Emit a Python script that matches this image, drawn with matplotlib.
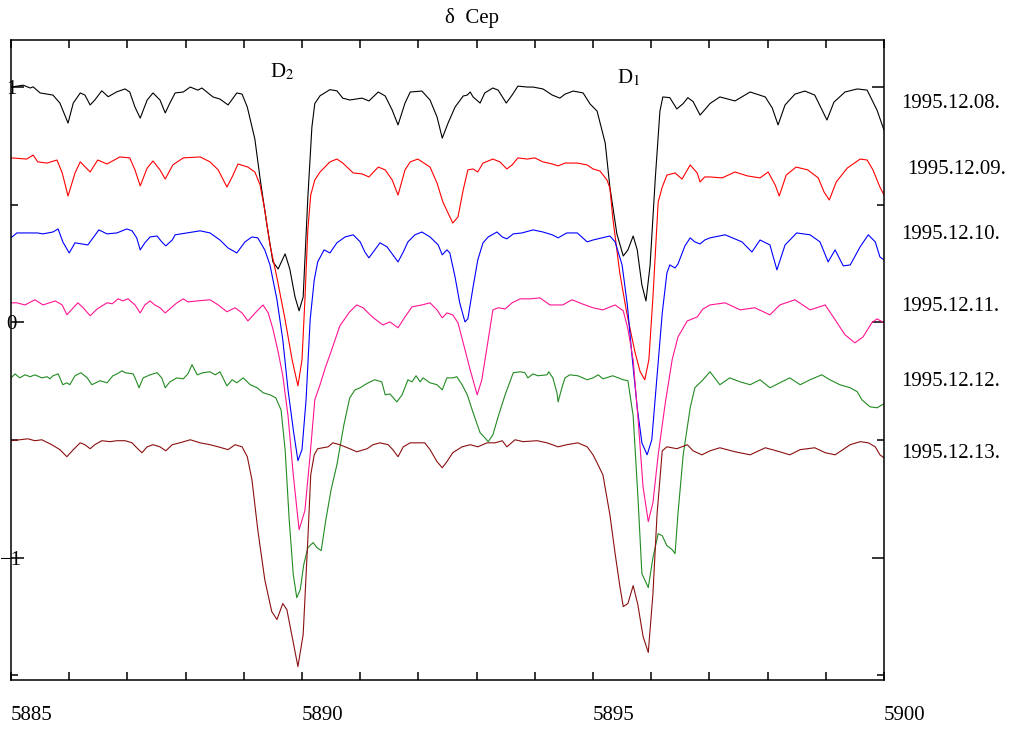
import numpy as np
import matplotlib.pyplot as plt

plt.rcParams['font.family'] = ['Liberation Serif', 'DejaVu Serif']
plt.rcParams['mathtext.fontset'] = 'stix'

# Na D region of delta Cep, six nights; (wavelength [A], offset flux)
spec_08 = np.array([
    (5885.00, 1.000), (5885.21, 1.008), (5885.33, 0.996), (5885.38, 1.001), (5885.50, 0.975),
    (5885.72, 0.966), (5885.84, 0.932), (5885.98, 0.847), (5886.07, 0.932), (5886.19, 0.975),
    (5886.27, 0.966), (5886.36, 0.924), (5886.44, 0.945), (5886.56, 0.984), (5886.67, 0.959),
    (5886.82, 0.980), (5886.96, 0.992), (5887.04, 0.979), (5887.13, 0.915), (5887.22, 0.868),
    (5887.34, 0.945), (5887.44, 0.975), (5887.56, 0.945), (5887.65, 0.890), (5887.73, 0.932),
    (5887.82, 0.975), (5887.96, 0.979), (5888.08, 1.000), (5888.21, 0.987), (5888.28, 0.996),
    (5888.47, 0.958), (5888.59, 0.949), (5888.73, 0.924), (5888.88, 0.975), (5888.97, 0.970),
    (5889.06, 0.915), (5889.19, 0.779), (5889.28, 0.611), (5889.40, 0.410), (5889.50, 0.257),
    (5889.59, 0.227), (5889.71, 0.291), (5889.79, 0.227), (5889.88, 0.108), (5889.95, 0.049),
    (5890.02, 0.108), (5890.10, 0.529), (5890.17, 0.830), (5890.22, 0.930), (5890.31, 0.963),
    (5890.48, 0.989), (5890.60, 0.984), (5890.70, 0.953), (5890.82, 0.945), (5891.03, 0.953),
    (5891.15, 0.941), (5891.31, 0.979), (5891.43, 0.962), (5891.55, 0.902), (5891.65, 0.839),
    (5891.77, 0.932), (5891.86, 0.979), (5892.06, 0.983), (5892.20, 0.945), (5892.32, 0.873),
    (5892.41, 0.783), (5892.51, 0.847), (5892.63, 0.915), (5892.77, 0.962), (5892.84, 0.966),
    (5892.89, 0.979), (5892.94, 0.958), (5893.06, 0.932), (5893.14, 0.975), (5893.28, 0.996),
    (5893.37, 0.987), (5893.51, 0.932), (5893.61, 0.966), (5893.71, 1.004), (5893.87, 1.000),
    (5893.97, 1.000), (5894.14, 0.992), (5894.30, 0.966), (5894.43, 0.953), (5894.52, 0.970),
    (5894.66, 0.983), (5894.83, 0.975), (5894.95, 0.928), (5895.07, 0.898), (5895.21, 0.762),
    (5895.29, 0.575), (5895.41, 0.376), (5895.52, 0.282), (5895.60, 0.308), (5895.69, 0.367),
    (5895.76, 0.308), (5895.84, 0.159), (5895.91, 0.091), (5895.98, 0.240), (5896.07, 0.611),
    (5896.15, 0.898), (5896.20, 0.958), (5896.32, 0.955), (5896.44, 0.907), (5896.55, 0.930),
    (5896.63, 0.955), (5896.72, 0.938), (5896.84, 0.881), (5896.96, 0.915), (5897.01, 0.930),
    (5897.18, 0.958), (5897.44, 0.941), (5897.70, 0.979), (5897.96, 0.958), (5898.08, 0.911),
    (5898.18, 0.839), (5898.30, 0.924), (5898.47, 0.970), (5898.64, 0.983), (5898.81, 0.966),
    (5898.92, 0.911), (5899.02, 0.860), (5899.14, 0.936), (5899.33, 0.979), (5899.54, 0.992),
    (5899.71, 0.987), (5899.88, 0.902), (5900.00, 0.817),
])

spec_09 = np.array([
    (5885.00, 0.699), (5885.27, 0.694), (5885.38, 0.711), (5885.46, 0.682), (5885.62, 0.677),
    (5885.79, 0.690), (5885.88, 0.635), (5885.98, 0.537), (5886.10, 0.635), (5886.19, 0.682),
    (5886.36, 0.639), (5886.49, 0.690), (5886.65, 0.673), (5886.87, 0.703), (5887.04, 0.699),
    (5887.13, 0.648), (5887.22, 0.580), (5887.34, 0.656), (5887.44, 0.686), (5887.56, 0.648),
    (5887.65, 0.609), (5887.78, 0.669), (5887.96, 0.699), (5888.25, 0.703), (5888.42, 0.682),
    (5888.56, 0.648), (5888.71, 0.575), (5888.80, 0.618), (5888.90, 0.673), (5889.07, 0.660),
    (5889.19, 0.639), (5889.28, 0.584), (5889.36, 0.478), (5889.45, 0.329), (5889.57, 0.189),
    (5889.71, 0.011), (5889.83, -0.159), (5889.93, -0.270), (5890.00, -0.159), (5890.05, 0.096),
    (5890.10, 0.393), (5890.15, 0.541), (5890.22, 0.605), (5890.31, 0.639), (5890.48, 0.682),
    (5890.60, 0.694), (5890.70, 0.677), (5890.88, 0.635), (5891.03, 0.631), (5891.15, 0.618),
    (5891.31, 0.660), (5891.43, 0.648), (5891.55, 0.605), (5891.65, 0.541), (5891.77, 0.648),
    (5891.86, 0.682), (5891.99, 0.694), (5892.20, 0.660), (5892.32, 0.592), (5892.42, 0.512),
    (5892.59, 0.422), (5892.68, 0.448), (5892.77, 0.563), (5892.85, 0.648), (5892.94, 0.652),
    (5893.02, 0.639), (5893.11, 0.677), (5893.28, 0.694), (5893.40, 0.682), (5893.52, 0.652),
    (5893.61, 0.669), (5893.71, 0.699), (5893.87, 0.694), (5894.00, 0.699), (5894.14, 0.682),
    (5894.30, 0.673), (5894.40, 0.665), (5894.52, 0.677), (5894.73, 0.677), (5894.90, 0.669),
    (5895.00, 0.652), (5895.12, 0.643), (5895.24, 0.605), (5895.29, 0.571), (5895.34, 0.444),
    (5895.46, 0.210), (5895.58, 0.040), (5895.72, -0.125), (5895.81, -0.210), (5895.89, -0.244),
    (5895.96, -0.159), (5896.03, 0.108), (5896.12, 0.512), (5896.19, 0.575), (5896.27, 0.626),
    (5896.41, 0.635), (5896.53, 0.609), (5896.67, 0.669), (5896.79, 0.635), (5896.84, 0.597),
    (5896.92, 0.618), (5897.01, 0.618), (5897.22, 0.614), (5897.44, 0.639), (5897.66, 0.622),
    (5897.87, 0.614), (5898.01, 0.639), (5898.13, 0.584), (5898.20, 0.537), (5898.32, 0.626),
    (5898.49, 0.660), (5898.69, 0.648), (5898.87, 0.614), (5898.97, 0.554), (5899.06, 0.520),
    (5899.18, 0.597), (5899.37, 0.656), (5899.59, 0.694), (5899.71, 0.690), (5899.81, 0.648),
    (5899.93, 0.575), (5900.00, 0.541),
])

spec_10 = np.array([
    (5885.00, 0.359), (5885.10, 0.380), (5885.27, 0.380), (5885.45, 0.380), (5885.55, 0.376),
    (5885.72, 0.384), (5885.81, 0.397), (5885.89, 0.342), (5886.00, 0.295), (5886.10, 0.338),
    (5886.22, 0.333), (5886.32, 0.329), (5886.41, 0.359), (5886.51, 0.393), (5886.65, 0.376),
    (5886.82, 0.380), (5886.99, 0.397), (5887.08, 0.389), (5887.16, 0.359), (5887.22, 0.308),
    (5887.30, 0.338), (5887.39, 0.363), (5887.51, 0.367), (5887.59, 0.342), (5887.66, 0.325),
    (5887.77, 0.350), (5887.82, 0.372), (5888.02, 0.380), (5888.25, 0.389), (5888.42, 0.380),
    (5888.59, 0.350), (5888.73, 0.316), (5888.88, 0.295), (5889.02, 0.342), (5889.14, 0.363),
    (5889.24, 0.359), (5889.36, 0.308), (5889.45, 0.244), (5889.57, 0.096), (5889.67, -0.074),
    (5889.76, -0.287), (5889.85, -0.456), (5889.93, -0.588), (5890.00, -0.541), (5890.07, -0.329),
    (5890.14, 0.011), (5890.21, 0.180), (5890.27, 0.257), (5890.38, 0.308), (5890.48, 0.295),
    (5890.60, 0.338), (5890.74, 0.363), (5890.88, 0.372), (5891.00, 0.342), (5891.08, 0.299),
    (5891.15, 0.274), (5891.25, 0.308), (5891.34, 0.338), (5891.46, 0.321), (5891.56, 0.287),
    (5891.65, 0.257), (5891.74, 0.299), (5891.82, 0.342), (5891.94, 0.372), (5892.06, 0.384),
    (5892.20, 0.363), (5892.34, 0.329), (5892.41, 0.287), (5892.49, 0.308), (5892.54, 0.295),
    (5892.63, 0.193), (5892.71, 0.083), (5892.80, 0.002), (5892.85, 0.015), (5892.94, 0.151),
    (5893.02, 0.265), (5893.11, 0.338), (5893.20, 0.363), (5893.35, 0.384), (5893.44, 0.363),
    (5893.52, 0.355), (5893.63, 0.376), (5893.78, 0.380), (5893.97, 0.393), (5894.14, 0.384),
    (5894.30, 0.372), (5894.40, 0.359), (5894.55, 0.380), (5894.73, 0.380), (5894.90, 0.342),
    (5895.00, 0.350), (5895.15, 0.359), (5895.29, 0.367), (5895.38, 0.342), (5895.50, 0.244),
    (5895.59, 0.074), (5895.67, -0.142), (5895.76, -0.363), (5895.84, -0.512), (5895.93, -0.563),
    (5896.01, -0.499), (5896.10, -0.227), (5896.19, 0.040), (5896.27, 0.210), (5896.32, 0.244),
    (5896.41, 0.231), (5896.46, 0.248), (5896.58, 0.325), (5896.67, 0.359), (5896.75, 0.342),
    (5896.84, 0.333), (5896.92, 0.350), (5897.01, 0.359), (5897.27, 0.372), (5897.56, 0.342),
    (5897.73, 0.299), (5897.87, 0.350), (5898.04, 0.329), (5898.16, 0.223), (5898.30, 0.329),
    (5898.50, 0.380), (5898.73, 0.372), (5898.90, 0.342), (5899.04, 0.257), (5899.16, 0.308),
    (5899.30, 0.240), (5899.42, 0.244), (5899.59, 0.321), (5899.73, 0.372), (5899.85, 0.342),
    (5899.93, 0.278), (5900.00, 0.265),
])

spec_11 = np.array([
    (5885.00, 0.083), (5885.10, 0.083), (5885.24, 0.074), (5885.41, 0.096), (5885.55, 0.074),
    (5885.76, 0.091), (5885.88, 0.074), (5885.96, 0.032), (5886.07, 0.062), (5886.15, 0.083),
    (5886.24, 0.062), (5886.36, 0.028), (5886.48, 0.057), (5886.65, 0.083), (5886.74, 0.079),
    (5886.84, 0.100), (5886.92, 0.091), (5887.01, 0.100), (5887.13, 0.074), (5887.22, 0.040),
    (5887.30, 0.074), (5887.39, 0.091), (5887.47, 0.074), (5887.56, 0.062), (5887.65, 0.040),
    (5887.77, 0.066), (5887.85, 0.083), (5887.96, 0.100), (5888.04, 0.087), (5888.20, 0.091),
    (5888.42, 0.096), (5888.56, 0.074), (5888.71, 0.045), (5888.85, 0.062), (5888.97, 0.040),
    (5889.07, 0.006), (5889.23, 0.049), (5889.33, 0.074), (5889.42, 0.040), (5889.50, -0.028),
    (5889.59, -0.125), (5889.67, -0.227), (5889.76, -0.397), (5889.85, -0.648), (5889.95, -0.881),
    (5890.05, -0.800), (5890.14, -0.563), (5890.22, -0.329), (5890.31, -0.265), (5890.40, -0.193),
    (5890.48, -0.138), (5890.65, -0.015), (5890.82, 0.045), (5890.94, 0.074), (5891.05, 0.062),
    (5891.17, 0.032), (5891.25, 0.015), (5891.39, -0.011), (5891.51, 0.002), (5891.65, -0.023),
    (5891.77, 0.023), (5891.89, 0.066), (5892.06, 0.074), (5892.20, 0.083), (5892.32, 0.053),
    (5892.41, 0.019), (5892.49, 0.040), (5892.59, 0.032), (5892.68, -0.002), (5892.77, -0.087),
    (5892.89, -0.202), (5893.01, -0.308), (5893.09, -0.244), (5893.18, -0.104), (5893.28, 0.053),
    (5893.37, 0.062), (5893.49, 0.057), (5893.61, 0.083), (5893.75, 0.100), (5893.92, 0.100),
    (5894.09, 0.104), (5894.26, 0.074), (5894.48, 0.074), (5894.64, 0.096), (5894.81, 0.079),
    (5895.00, 0.062), (5895.17, 0.053), (5895.38, 0.074), (5895.52, 0.049), (5895.60, -0.028),
    (5895.69, -0.159), (5895.77, -0.397), (5895.86, -0.699), (5895.95, -0.847), (5896.03, -0.766),
    (5896.12, -0.563), (5896.24, -0.346), (5896.36, -0.159), (5896.46, -0.062), (5896.62, 0.006),
    (5896.79, 0.023), (5896.89, 0.057), (5897.01, 0.074), (5897.27, 0.083), (5897.53, 0.053),
    (5897.78, 0.062), (5898.04, 0.032), (5898.21, 0.074), (5898.47, 0.096), (5898.73, 0.053),
    (5898.99, 0.074), (5899.16, 0.011), (5899.33, -0.053), (5899.50, -0.087), (5899.64, -0.062),
    (5899.79, -0.002), (5899.88, 0.015), (5900.00, -0.002),
])

spec_12 = np.array([
    (5885.00, -0.236), (5885.07, -0.219), (5885.15, -0.236), (5885.24, -0.223), (5885.33, -0.231),
    (5885.41, -0.223), (5885.53, -0.236), (5885.62, -0.231), (5885.67, -0.240), (5885.72, -0.227),
    (5885.81, -0.219), (5885.89, -0.265), (5885.96, -0.257), (5886.01, -0.265), (5886.10, -0.227),
    (5886.20, -0.214), (5886.31, -0.236), (5886.39, -0.265), (5886.53, -0.248), (5886.65, -0.257),
    (5886.75, -0.227), (5886.82, -0.219), (5886.91, -0.206), (5886.96, -0.214), (5887.10, -0.219),
    (5887.16, -0.253), (5887.20, -0.278), (5887.27, -0.236), (5887.39, -0.223), (5887.51, -0.214),
    (5887.59, -0.236), (5887.65, -0.278), (5887.73, -0.253), (5887.85, -0.236), (5887.96, -0.240),
    (5888.04, -0.219), (5888.11, -0.180), (5888.20, -0.223), (5888.30, -0.214), (5888.42, -0.210),
    (5888.51, -0.223), (5888.59, -0.210), (5888.71, -0.270), (5888.80, -0.244), (5888.88, -0.257),
    (5888.99, -0.236), (5889.11, -0.265), (5889.23, -0.278), (5889.33, -0.299), (5889.45, -0.308),
    (5889.55, -0.321), (5889.64, -0.372), (5889.71, -0.541), (5889.78, -0.839), (5889.85, -1.072),
    (5889.91, -1.170), (5889.97, -1.136), (5890.03, -1.030), (5890.10, -0.958), (5890.19, -0.936),
    (5890.26, -0.958), (5890.33, -0.970), (5890.41, -0.839), (5890.50, -0.711), (5890.60, -0.605),
    (5890.72, -0.435), (5890.82, -0.321), (5890.91, -0.287), (5891.00, -0.278), (5891.08, -0.265),
    (5891.17, -0.253), (5891.25, -0.244), (5891.37, -0.253), (5891.43, -0.308), (5891.51, -0.304),
    (5891.63, -0.338), (5891.72, -0.308), (5891.82, -0.244), (5891.89, -0.253), (5891.96, -0.227),
    (5892.03, -0.253), (5892.08, -0.236), (5892.20, -0.257), (5892.32, -0.265), (5892.41, -0.287),
    (5892.49, -0.236), (5892.59, -0.236), (5892.66, -0.231), (5892.75, -0.265), (5892.84, -0.308),
    (5892.94, -0.384), (5893.06, -0.469), (5893.14, -0.490), (5893.20, -0.507), (5893.28, -0.478),
    (5893.37, -0.401), (5893.49, -0.308), (5893.63, -0.214), (5893.75, -0.210), (5893.83, -0.214),
    (5893.88, -0.236), (5893.97, -0.219), (5894.05, -0.227), (5894.21, -0.223), (5894.24, -0.210),
    (5894.31, -0.236), (5894.38, -0.299), (5894.40, -0.338), (5894.47, -0.274), (5894.52, -0.236),
    (5894.60, -0.223), (5894.74, -0.227), (5894.90, -0.244), (5895.00, -0.236), (5895.09, -0.223),
    (5895.17, -0.240), (5895.29, -0.231), (5895.34, -0.227), (5895.52, -0.244), (5895.60, -0.248),
    (5895.69, -0.397), (5895.77, -0.733), (5895.84, -1.068), (5895.95, -1.127), (5896.03, -1.000),
    (5896.12, -0.898), (5896.19, -0.907), (5896.27, -0.949), (5896.36, -0.966), (5896.41, -0.983),
    (5896.46, -0.813), (5896.55, -0.563), (5896.67, -0.363), (5896.75, -0.278), (5896.89, -0.244),
    (5897.01, -0.210), (5897.18, -0.265), (5897.35, -0.236), (5897.53, -0.253), (5897.70, -0.265),
    (5897.87, -0.244), (5898.04, -0.278), (5898.21, -0.257), (5898.38, -0.236), (5898.56, -0.265),
    (5898.73, -0.244), (5898.93, -0.223), (5899.07, -0.244), (5899.24, -0.265), (5899.42, -0.278),
    (5899.54, -0.295), (5899.62, -0.329), (5899.76, -0.359), (5899.88, -0.363), (5900.00, -0.346),
])

spec_13 = np.array([
    (5885.00, -0.503), (5885.15, -0.499), (5885.29, -0.495), (5885.41, -0.503), (5885.53, -0.499),
    (5885.70, -0.520), (5885.84, -0.541), (5885.96, -0.571), (5886.07, -0.541), (5886.19, -0.512),
    (5886.27, -0.520), (5886.36, -0.537), (5886.44, -0.520), (5886.56, -0.503), (5886.70, -0.507),
    (5886.82, -0.503), (5886.96, -0.503), (5887.08, -0.512), (5887.16, -0.533), (5887.25, -0.554),
    (5887.34, -0.529), (5887.44, -0.520), (5887.56, -0.529), (5887.66, -0.546), (5887.77, -0.520),
    (5887.90, -0.512), (5888.08, -0.499), (5888.25, -0.512), (5888.42, -0.520), (5888.56, -0.529),
    (5888.73, -0.541), (5888.85, -0.520), (5888.97, -0.529), (5889.06, -0.571), (5889.14, -0.669),
    (5889.24, -0.881), (5889.36, -1.093), (5889.48, -1.229), (5889.57, -1.263), (5889.67, -1.195),
    (5889.74, -1.221), (5889.83, -1.335), (5889.93, -1.463), (5890.02, -1.327), (5890.10, -0.924),
    (5890.15, -0.648), (5890.21, -0.563), (5890.27, -0.537), (5890.45, -0.529), (5890.53, -0.512),
    (5890.65, -0.520), (5890.82, -0.537), (5890.94, -0.550), (5891.12, -0.537), (5891.22, -0.520),
    (5891.34, -0.512), (5891.48, -0.520), (5891.56, -0.541), (5891.65, -0.571), (5891.74, -0.529),
    (5891.86, -0.512), (5891.99, -0.512), (5892.11, -0.512), (5892.20, -0.541), (5892.32, -0.592),
    (5892.41, -0.618), (5892.49, -0.592), (5892.59, -0.554), (5892.75, -0.529), (5892.89, -0.520),
    (5893.02, -0.529), (5893.18, -0.512), (5893.32, -0.512), (5893.44, -0.503), (5893.52, -0.529),
    (5893.66, -0.499), (5893.80, -0.507), (5894.04, -0.503), (5894.21, -0.512), (5894.40, -0.529),
    (5894.55, -0.520), (5894.74, -0.512), (5894.90, -0.529), (5895.00, -0.563), (5895.07, -0.597),
    (5895.17, -0.648), (5895.29, -0.817), (5895.38, -0.983), (5895.46, -1.119), (5895.52, -1.208),
    (5895.60, -1.195), (5895.69, -1.119), (5895.77, -1.199), (5895.86, -1.335), (5895.95, -1.403),
    (5896.03, -1.153), (5896.10, -0.817), (5896.19, -0.546), (5896.27, -0.529), (5896.44, -0.537),
    (5896.62, -0.520), (5896.72, -0.546), (5896.87, -0.563), (5897.01, -0.546), (5897.18, -0.533),
    (5897.44, -0.550), (5897.70, -0.563), (5897.96, -0.533), (5898.21, -0.550), (5898.38, -0.563),
    (5898.56, -0.541), (5898.81, -0.533), (5898.99, -0.554), (5899.16, -0.563), (5899.42, -0.520),
    (5899.59, -0.507), (5899.73, -0.512), (5899.85, -0.529), (5899.93, -0.563), (5900.00, -0.576),
])

spectra = [spec_08, spec_09, spec_10, spec_11, spec_12, spec_13]
dates = ['1995.12.08.', '1995.12.09.', '1995.12.10.', '1995.12.11.', '1995.12.12.', '1995.12.13.']
colors = ['black', '#ff0000', '#0000ff', '#ff1493', '#228b22', '#8b1010']

# where the date labels sit (data coords, right of the frame)
date_x = [5900.30, 5900.39, 5900.30, 5900.30, 5900.30, 5900.30]
date_y = [0.930, 0.650, 0.374, 0.068, -0.250, -0.556]

fig = plt.figure(figsize=(10.11, 7.31), dpi=100)
ax = fig.add_axes([11 / 1011, 51 / 731, 873 / 1011, 640 / 731])

for spec, col in zip(spectra, colors):
    ax.plot(spec[:, 0], spec[:, 1], color=col, lw=0.8, solid_joinstyle='round')

for x, y, d in zip(date_x, date_y, dates):
    ax.text(x, y, d, fontsize=15, va='center', ha='left', clip_on=False)

ax.text(5889.45, 1.064, 'D$_2$', fontsize=15, va='center')
ax.text(5895.41, 1.038, 'D$_1$', fontsize=15, va='center')

ax.set_xlim(5885, 5900)
ax.set_ylim(-1.52, 1.2)

ax.set_xticks([5885, 5890, 5895, 5900])
ax.set_xticklabels(['5885', '5890', '5895', '5900'], ha='left')
ax.set_xticks(np.arange(5885, 5901, 1), minor=True)
ax.set_yticks([-1, 0, 1])
ax.set_yticklabels(['\u22121', '0', '1'], ha='center')
ax.set_yticks([-1.5, -0.5, 0.5], minor=True)

ax.tick_params(which='both', direction='in', top=True, right=True, width=1.1, labelsize=15)
ax.tick_params(axis='x', which='both', length=5.5, pad=19)
ax.tick_params(axis='y', which='major', length=9, pad=0)
ax.tick_params(axis='y', which='minor', length=5)
for s in ax.spines.values():
    s.set_linewidth(1.1)

fig.text(0.467, 0.975, '\u03b4  Cep', ha='center', va='center', fontsize=15)

fig.savefig('out.png', dpi=100)
